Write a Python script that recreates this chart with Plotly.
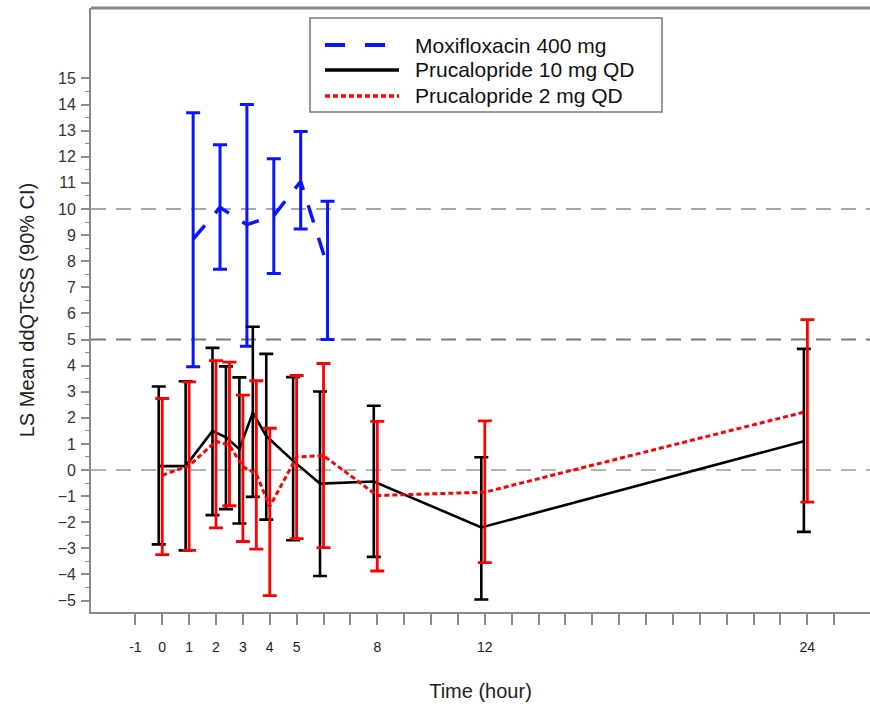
import plotly.graph_objects as go

# ---------------- data ----------------
times = [0, 1, 2, 2.5, 3, 3.5, 4, 5, 6, 8, 12, 24]
p10_mean = [0.15, 0.15, 1.5, 1.25, 0.8, 2.2, 1.3, 0.35, -0.52, -0.44, -2.2, 1.1]
p10_lo = [-2.85, -3.08, -1.73, -1.5, -2.05, -1.03, -1.9, -2.69, -4.06, -3.33, -4.96, -2.37]
p10_hi = [3.2, 3.4, 4.68, 3.97, 3.55, 5.49, 4.45, 3.56, 3.01, 2.46, 0.49, 4.64]

p2_mean = [-0.2, 0.17, 1.1, 0.95, 0.13, -0.15, -1.4, 0.5, 0.55, -0.98, -0.85, 2.25]
p2_lo = [-3.24, -3.08, -2.22, -1.37, -2.74, -3.03, -4.81, -2.63, -2.97, -3.87, -3.55, -1.23]
p2_hi = [2.74, 3.38, 4.19, 4.13, 2.87, 3.42, 1.6, 3.62, 4.08, 1.86, 1.88, 5.76]

moxi_t = [1, 2, 3, 4, 5, 6]
moxi_mean = [8.85, 10.06, 9.4, 9.75, 11.05, 7.8]
moxi_lo = [3.96, 7.69, 4.74, 7.53, 9.23, 5.0]
moxi_hi = [13.69, 12.46, 14.0, 11.92, 12.97, 10.3]

series_names = ["Moxifloxacin 400 mg", "Prucalopride 10 mg QD", "Prucalopride 2 mg QD"]

x_tickvals = list(range(-1, 26))
x_labelled = [-1, 0, 1, 2, 3, 4, 5, 8, 12, 24]
y_tickvals = list(range(-5, 16))
ref_lines = [0, 5, 10]

# ---------------- styling ----------------
FONT = "Liberation Sans, Arial, sans-serif"
BLUE, BLACK, RED = "#0a14ff", "#000000", "#ff0000"
dodge = {"moxi": 0.15, "p10": -0.13, "p2": 0.0}


def err(mean, lo, hi):
    return dict(type="data", symmetric=False,
                array=[h - m for h, m in zip(hi, mean)],
                arrayminus=[m - l for m, l in zip(mean, lo)])


fig = go.Figure()

e = err(moxi_mean, moxi_lo, moxi_hi)
e.update(color=BLUE, thickness=3, width=7)
fig.add_trace(go.Scatter(x=[t + dodge["moxi"] for t in moxi_t], y=moxi_mean,
                         mode="lines", name=series_names[0],
                         line=dict(color=BLUE, width=3.5, dash="18px,16px"),
                         error_y=e, showlegend=False))

e = err(p10_mean, p10_lo, p10_hi)
e.update(color=BLACK, thickness=2.6, width=7)
fig.add_trace(go.Scatter(x=[t + dodge["p10"] for t in times], y=p10_mean,
                         mode="lines", name=series_names[1],
                         line=dict(color=BLACK, width=2.6),
                         error_y=e, showlegend=False))

e = err(p2_mean, p2_lo, p2_hi)
e.update(color=RED, thickness=2.8, width=7)
fig.add_trace(go.Scatter(x=[t + dodge["p2"] for t in times], y=p2_mean,
                         mode="lines", name=series_names[2],
                         line=dict(color=RED, width=3, dash="5px,3px"),
                         error_y=e, showlegend=False))

# reference dashed lines
ref_colors = {0: "#b4b4b4", 5: "#7a7a7a", 10: "#a8a8a8"}
for yv in ref_lines:
    fig.add_shape(type="line", xref="paper", x0=0, x1=1, yref="y", y0=yv, y1=yv,
                  line=dict(color=ref_colors[yv], width=1.8, dash="15px,10px"),
                  layer="below")

# top frame line
fig.add_shape(type="line", xref="paper", yref="paper", x0=0, x1=1, y0=1, y1=1,
              line=dict(color="#8a8a8a", width=3))

# manual legend
W, H = 870, 704
L, R, T, B = 91, 0, 8, 92
pw, ph = W - L - R, H - T - B


def px(xp):
    return (xp - L) / pw


def py(yp):
    return (H - B - yp) / ph


fig.add_shape(type="rect", xref="paper", yref="paper",
              x0=px(310), x1=px(662), y0=py(112), y1=py(18),
              line=dict(color="#7a7a7a", width=1.5), fillcolor="white", layer="above")
leg_rows = [45, 70, 96]
leg_styles = [dict(color=BLUE, width=4, dash="20px,20px"),
              dict(color=BLACK, width=3.5),
              dict(color=RED, width=3.5, dash="5px,3px")]
for name, yr, st in zip(series_names, leg_rows, leg_styles):
    fig.add_shape(type="line", xref="paper", yref="paper",
                  x0=px(325), x1=px(399), y0=py(yr), y1=py(yr), line=st, layer="above")
    fig.add_annotation(xref="paper", yref="paper", x=px(413), y=py(yr),
                       text=name, showarrow=False, xanchor="left", yanchor="middle",
                       font=dict(family=FONT, size=21, color="#111111"))

fig.update_layout(
    width=W, height=H,
    margin=dict(l=L, r=R, t=T, b=B, pad=0),
    paper_bgcolor="white", plot_bgcolor="white",
    font=dict(family=FONT, color="#222222"),
    showlegend=False,
    xaxis=dict(
        range=[-2.65, 26.33], showgrid=False, zeroline=False,
        showline=True, linecolor="#8a8a8a", linewidth=1.8,
        tickmode="array", tickvals=x_tickvals,
        ticktext=[str(v) if v in x_labelled else "" for v in x_tickvals],
        ticks="outside", ticklen=11, tickwidth=1.5, tickcolor="#8a8a8a",
        ticklabelstandoff=10,
        tickfont=dict(family=FONT, size=14, color="#222222"),
        title=dict(text="Time (hour)", font=dict(family=FONT, size=20, color="#222222"),
                   standoff=30),
    ),
    yaxis=dict(
        range=[-5.44, 17.7], showgrid=False, zeroline=False,
        showline=True, linecolor="#8a8a8a", linewidth=1.8,
        tickmode="array", tickvals=y_tickvals,
        ticks="outside", ticklen=8, tickwidth=1.5, tickcolor="#8a8a8a",
        ticklabelstandoff=2,
        minor=dict(tickmode="array", tickvals=[v + 0.5 for v in y_tickvals[:-1]],
                   ticks="outside", ticklen=4, tickwidth=1.2, tickcolor="#8a8a8a"),
        tickfont=dict(family=FONT, size=16, color="#333333"),
        title=dict(text="LS Mean ddQTcSS (90% CI)",
                   font=dict(family=FONT, size=20, color="#222222"), standoff=18),
    ),
)

fig.write_html("out.html")
